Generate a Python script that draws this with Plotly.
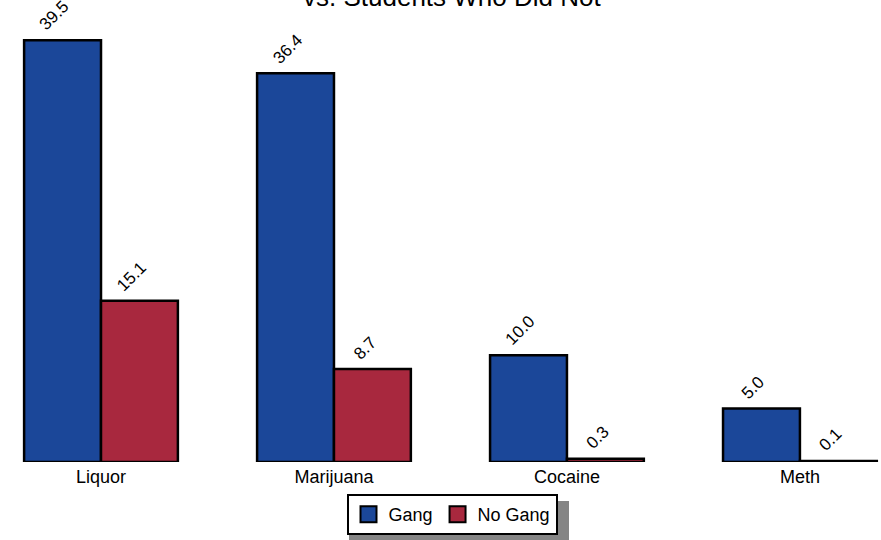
import plotly.graph_objects as go

categories = ["Liquor", "Marijuana", "Cocaine", "Meth"]
gang = [39.5, 36.4, 10.0, 5.0]
no_gang = [15.1, 8.7, 0.3, 0.1]
series_names = ["Gang", "No Gang"]
colors = ["#1b4799", "#a8283e"]
title_text = "vs. Students Who Did Not"

W, H = 881, 540
top, bottom = 30, 462
plot_h = bottom - top
bar_px = 77.5  # half-group offset in pixels

fig = go.Figure()
for name, vals, col in zip(series_names, [gang, no_gang], colors):
    fig.add_trace(go.Bar(
        x=categories, y=vals, name=name, showlegend=False,
        marker=dict(color=col, line=dict(color="black", width=2.5)),
    ))
# legend entries (square swatches)
for name, col in zip(series_names, colors):
    fig.add_trace(go.Scatter(
        x=[None], y=[None], mode="markers", name=name,
        marker=dict(symbol="square", size=16, color=col,
                    line=dict(color="black", width=2)),
    ))

# value labels, rotated
for k, vals in enumerate([gang, no_gang]):
    sign = -1 if k == 0 else 1
    for c, v in zip(categories, vals):
        fig.add_annotation(
            x=c, y=v, text=f"{v:.1f}", showarrow=False, textangle=-45,
            xanchor="center", yanchor="bottom",
            xshift=sign * bar_px / 2 - 8, yshift=3,
            font=dict(size=17, color="black"),
        )

# title (second line of a two-line title, top cut off by the page edge)
fig.add_annotation(
    xref="paper", yref="paper", x=451.5/W, y=(bottom + 3)/plot_h,
    text=title_text, showarrow=False, xanchor="center", yanchor="middle",
    font=dict(size=26, color="black"),
)

fig.add_shape(type="rect", xref="paper", yref="paper",
              x0=349/W, x1=569/W,
              y0=(bottom-542)/plot_h, y1=(bottom-501)/plot_h,
              fillcolor="#858585", line=dict(width=0), layer="above")

fig.update_layout(
    width=W, height=H,
    margin=dict(l=0, r=0, t=top, b=H-bottom),
    paper_bgcolor="white", plot_bgcolor="white",
    font=dict(family="Liberation Sans, Arial, sans-serif", size=18, color="black"),
    barmode="group", bargap=0.34, bargroupgap=0,
    xaxis=dict(range=[-0.4335, 3.348], showgrid=False, showline=False,
               ticks="", zeroline=False, tickfont=dict(size=18),
               ticklabelstandoff=2),
    yaxis=dict(range=[0, plot_h/10.68], visible=False),
    legend=dict(orientation="h", x=452/W, xanchor="center",
                y=(bottom-494)/plot_h, yanchor="top",
                bgcolor="white", bordercolor="black", borderwidth=2,
                font=dict(size=18), itemsizing="trace",
                itemwidth=30, tracegroupgap=0),
    showlegend=True,
)

fig.write_html("out.html", config={"displayModeBar": False},
               post_script="document.body.style.margin='0px';")
